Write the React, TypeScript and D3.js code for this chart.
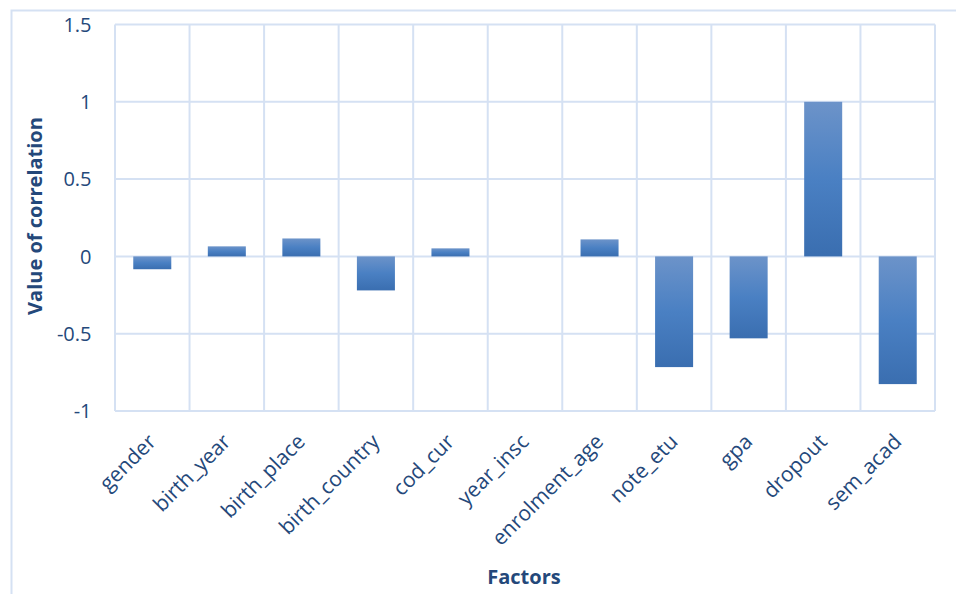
import React from "react";
import * as d3 from "d3";

const categories = ["gender", "birth_year", "birth_place", "birth_country", "cod_cur", "year_insc", "enrolment_age", "note_etu", "gpa", "dropout", "sem_acad"];
const values = [-0.083, 0.065, 0.116, -0.22, 0.052, 0, 0.11, -0.716, -0.53, 1.0, -0.826];
const yTicks = [-1, -0.5, 0, 0.5, 1, 1.5];

const W = 956, H = 594;
const M = { left: 115, right: 935, top: 24.5, bottom: 411 };
const textColor = "#24487a";
const gridColor = "#d5e1f3";
const font = "'Open Sans', Lato, sans-serif";

export default function App() {
  const x = d3.scaleBand<string>().domain(categories).range([M.left, M.right]).paddingInner(0.49).paddingOuter(0.245);
  const xc = d3.scaleBand<string>().domain(categories).range([M.left, M.right]);
  const y = d3.scaleLinear().domain([-1, 1.5]).range([M.bottom, M.top]);
  const boundaries = d3.range(categories.length + 1).map(i => M.left + i * xc.step());
  return (
    <svg width={W} height={H} style={{ position: "absolute", left: 0, top: 0, background: "#fff" }}>
      <defs>
        <linearGradient id="barGrad" x1="0" y1="0" x2="0" y2="1">
          <stop offset="0%" stopColor="#6c93c9" />
          <stop offset="50%" stopColor="#4a80c3" />
          <stop offset="100%" stopColor="#3a6eb0" />
        </linearGradient>
      </defs>
      <rect x={0} y={0} width={W} height={H} fill="#fff" />
      <path d={`M11.5,${H} V10.5 H${W}`} fill="none" stroke={gridColor} strokeWidth={2} />
      {yTicks.map(t => (
        <line key={"h" + t} x1={M.left} x2={M.right} y1={y(t)} y2={y(t)} stroke={gridColor} strokeWidth={2} />
      ))}
      {boundaries.map((b, i) => (
        <line key={"v" + i} x1={b} x2={b} y1={M.top} y2={M.bottom} stroke={gridColor} strokeWidth={2} />
      ))}
      {categories.map((c, i) => {
        const v = values[i];
        if (v === 0) return null;
        const y0 = y(Math.max(0, v));
        const y1 = y(Math.min(0, v));
        return <rect key={c} x={x(c)} y={y0} width={x.bandwidth()} height={y1 - y0} fill="url(#barGrad)" />;
      })}
      {yTicks.map(t => (
        <text key={"t" + t} x={91.5} y={y(t)} dy="0.36em" textAnchor="end" fontSize={20} fill={textColor} fontFamily={font}>{t}</text>
      ))}
      {categories.map(c => {
        const cx = (xc(c) as number) + xc.bandwidth() / 2 + 5;
        const cy = 443;
        return (
          <text key={"l" + c} transform={`translate(${cx},${cy}) rotate(-45)`} textAnchor="end" fontSize={21} fill={textColor} fontFamily={font}>{c}</text>
        );
      })}
      <text transform={`translate(42,216) rotate(-90)`} textAnchor="middle" fontSize={20} fontWeight="bold" fill={textColor} fontFamily={font}>Value of correlation</text>
      <text x={524} y={584} textAnchor="middle" fontSize={20} fontWeight="bold" fill={textColor} fontFamily={font}>Factors</text>
    </svg>
  );
}
